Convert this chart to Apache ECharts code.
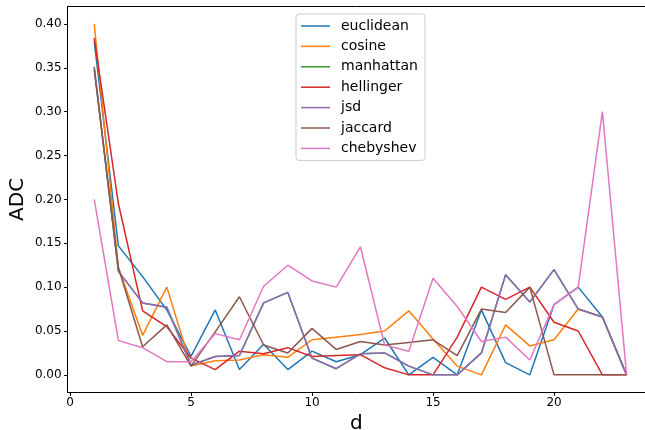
<!DOCTYPE html>
<html style="height: 100%">
<head>
    <meta charset="utf-8">
    <script src="https://cdn.jsdelivr.net/npm/echarts@6/dist/echarts.min.js"></script>
</head>
<body style="height: 100%; margin: 0">
    <div id="container" style="width: 645px; height: 430px"></div>
    <script type="text/javascript">
        // d = 1 .. 23
        var d = [1, 2, 3, 4, 5, 6, 7, 8, 9, 10, 11, 12, 13, 14, 15, 16, 17, 18, 19, 20, 21, 22, 23];

        var euclidean = [0.380, 0.147, 0.112, 0.074, 0.021, 0.074, 0.006, 0.035, 0.006, 0.027, 0.015, 0.023,
            0.042, 0.000, 0.020, 0.000, 0.074, 0.014, 0.000, 0.080, 0.100, 0.066, 0.000];
        var cosine = [0.400, 0.122, 0.045, 0.100, 0.010, 0.016, 0.017, 0.023, 0.020, 0.040, 0.043, 0.046,
            0.050, 0.073, 0.041, 0.010, 0.000, 0.057, 0.033, 0.040, 0.075, 0.066, 0.000];
        var manhattan = [0.351, 0.118, 0.082, 0.077, 0.011, 0.021, 0.022, 0.082, 0.094, 0.019, 0.007, 0.024,
            0.025, 0.010, 0.000, 0.000, 0.025, 0.114, 0.083, 0.120, 0.075, 0.066, 0.000];
        var hellinger = [0.384, 0.195, 0.073, 0.055, 0.019, 0.006, 0.027, 0.024, 0.031, 0.021, 0.022, 0.023,
            0.008, 0.000, 0.000, 0.043, 0.100, 0.086, 0.100, 0.060, 0.050, 0.000, 0.000];
        var jsd = [0.351, 0.118, 0.082, 0.077, 0.011, 0.021, 0.022, 0.082, 0.094, 0.019, 0.007, 0.024,
            0.025, 0.010, 0.000, 0.000, 0.025, 0.114, 0.083, 0.120, 0.075, 0.066, 0.000];
        var jaccard = [0.348, 0.122, 0.032, 0.057, 0.010, 0.049, 0.089, 0.034, 0.025, 0.053, 0.029, 0.038,
            0.034, 0.037, 0.040, 0.022, 0.075, 0.071, 0.100, 0.000, 0.000, 0.000, 0.000];
        var chebyshev = [0.200, 0.039, 0.031, 0.015, 0.015, 0.047, 0.040, 0.101, 0.125, 0.107, 0.100, 0.146,
            0.034, 0.027, 0.110, 0.078, 0.038, 0.043, 0.017, 0.080, 0.100, 0.300, 0.000];

        var names = ['euclidean', 'cosine', 'manhattan', 'hellinger', 'jsd', 'jaccard', 'chebyshev'];
        var values = [euclidean, cosine, manhattan, hellinger, jsd, jaccard, chebyshev];
        var colors = ['#1f77b4', '#ff7f0e', '#2ca02c', '#d62728', '#9467bd', '#8c564b', '#e377c2'];
        var xTicks = [0, 5, 10, 15, 20];
        var yTicks = [0, 0.05, 0.10, 0.15, 0.20, 0.25, 0.30, 0.35, 0.40];

        var font = 'DejaVu Sans';
        var myChart = echarts.init(document.getElementById('container'));

        var series = names.map(function (n, i) {
            return {
                name: n,
                type: 'line',
                showSymbol: false,
                symbol: 'none',
                color: colors[i],
                lineStyle: { width: 1.5, color: colors[i] },
                data: d.map(function (x, j) { return [x, values[i][j]]; })
            };
        });

        myChart.setOption({
            animation: false,
            textStyle: { fontFamily: font },
            grid: { left: 67.6, right: 0, top: 6.4, bottom: 37.6, outerBoundsMode: 'none', containLabel: false },
            legend: {
                orient: 'vertical',
                left: 296,
                top: 14,
                icon: 'rect',
                itemWidth: 29,
                itemHeight: 1.5,
                itemGap: 6.4,
                padding: [5, 7, 5, 5],
                borderColor: '#cccccc',
                borderWidth: 1,
                borderRadius: 3,
                backgroundColor: '#ffffff',
                textStyle: { fontFamily: font, fontSize: 14, color: '#000', padding: [0, 0, 0, 6] },
                data: names
            },
            xAxis: [{
                type: 'value',
                min: -0.1,
                max: 23.76,
                name: 'd',
                nameLocation: 'middle',
                nameGap: 20,
                nameTextStyle: { fontFamily: font, fontSize: 20, color: '#000' },
                splitLine: { show: false },
                axisLine: { onZero: false, lineStyle: { color: '#000', width: 1 } },
                axisTick: { length: 3.5, customValues: xTicks, lineStyle: { color: '#000' } },
                axisLabel: { customValues: xTicks, fontSize: 12, color: '#000', margin: 4 }
            }, {
                type: 'value',
                position: 'top',
                min: -0.1,
                max: 23.76,
                splitLine: { show: false },
                axisLine: { show: true, onZero: false, lineStyle: { color: '#000', width: 1 } },
                axisTick: { show: false },
                axisLabel: { show: false }
            }],
            yAxis: {
                type: 'value',
                min: -0.02,
                max: 0.42,
                name: 'ADC',
                nameLocation: 'middle',
                nameGap: 40,
                nameMoveOverlap: false,
                nameTextStyle: { fontFamily: font, fontSize: 20, color: '#000' },
                splitLine: { show: false },
                axisLine: { show: true, onZero: false, lineStyle: { color: '#000', width: 1 } },
                axisTick: { show: true, length: 3.5, customValues: yTicks, lineStyle: { color: '#000' } },
                axisLabel: {
                    customValues: yTicks, fontSize: 12, color: '#000', margin: 6,
                    formatter: function (v) { return v.toFixed(2); }
                }
            },
            series: series
        });
    </script>
</body>
</html>
